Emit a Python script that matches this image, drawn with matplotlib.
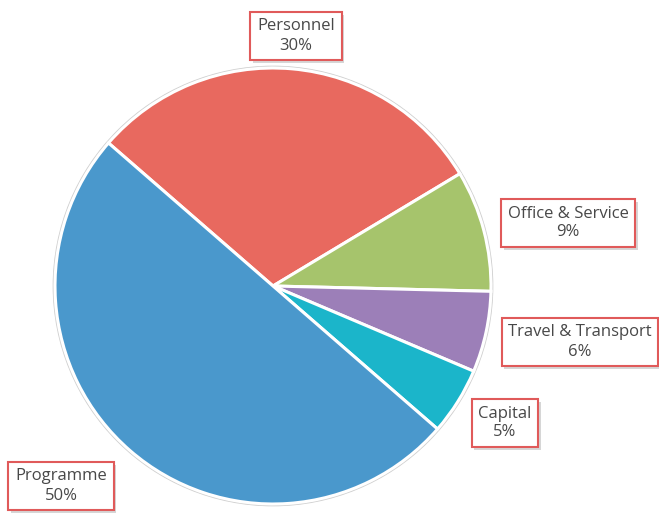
import matplotlib.pyplot as plt
import matplotlib.patheffects as pe

# Data
labels = ['Personnel', 'Office & Service', 'Travel & Transport', 'Capital', 'Programme']
shares = [30, 9, 6, 5, 50]
colors = ['#E8695F', '#A6C46C', '#9C7FB8', '#1BB5CA', '#4A98CC']

# label box centres in pixel coords (x, y from top)
label_pos = [(296, 36), (568, 223), (580, 342), (505, 423), (61, 486)]

W, H = 659, 515
fig = plt.figure(figsize=(W / 100, H / 100), dpi=100)
ax = fig.add_axes([0, 0, 1, 1])

wedges, _ = ax.pie(shares, colors=colors, startangle=139, counterclock=False,
                   center=(273, H - 286), radius=218,
                   wedgeprops=dict(edgecolor='white', linewidth=2.2))
# faint outline round the pie
circle = plt.Circle((273, H - 286), 219.5, fill=False, edgecolor='#cfcfcf', linewidth=1.2, zorder=0)
ax.add_patch(circle)

# pie() resets the limits, so set them afterwards
ax.set_xlim(0, W)
ax.set_ylim(0, H)
ax.set_aspect('equal')
ax.axis('off')

for name, val, (px, py) in zip(labels, shares, label_pos):
    t = ax.text(px, H - py, f'{name}\n{val}%', ha='center', va='center',
                fontsize=12, family='Open Sans', color='#484848', linespacing=1.25,
                bbox=dict(boxstyle='square,pad=0.4', facecolor='white',
                          edgecolor='#E05A5A', linewidth=1.5))
    # soft shadow behind the box
    t.get_bbox_patch().set_path_effects([
        pe.SimplePatchShadow(offset=(2, -2), shadow_rgbFace='#bbbbbb', alpha=0.6),
        pe.Normal()])

fig.savefig('out.png', dpi=100)
